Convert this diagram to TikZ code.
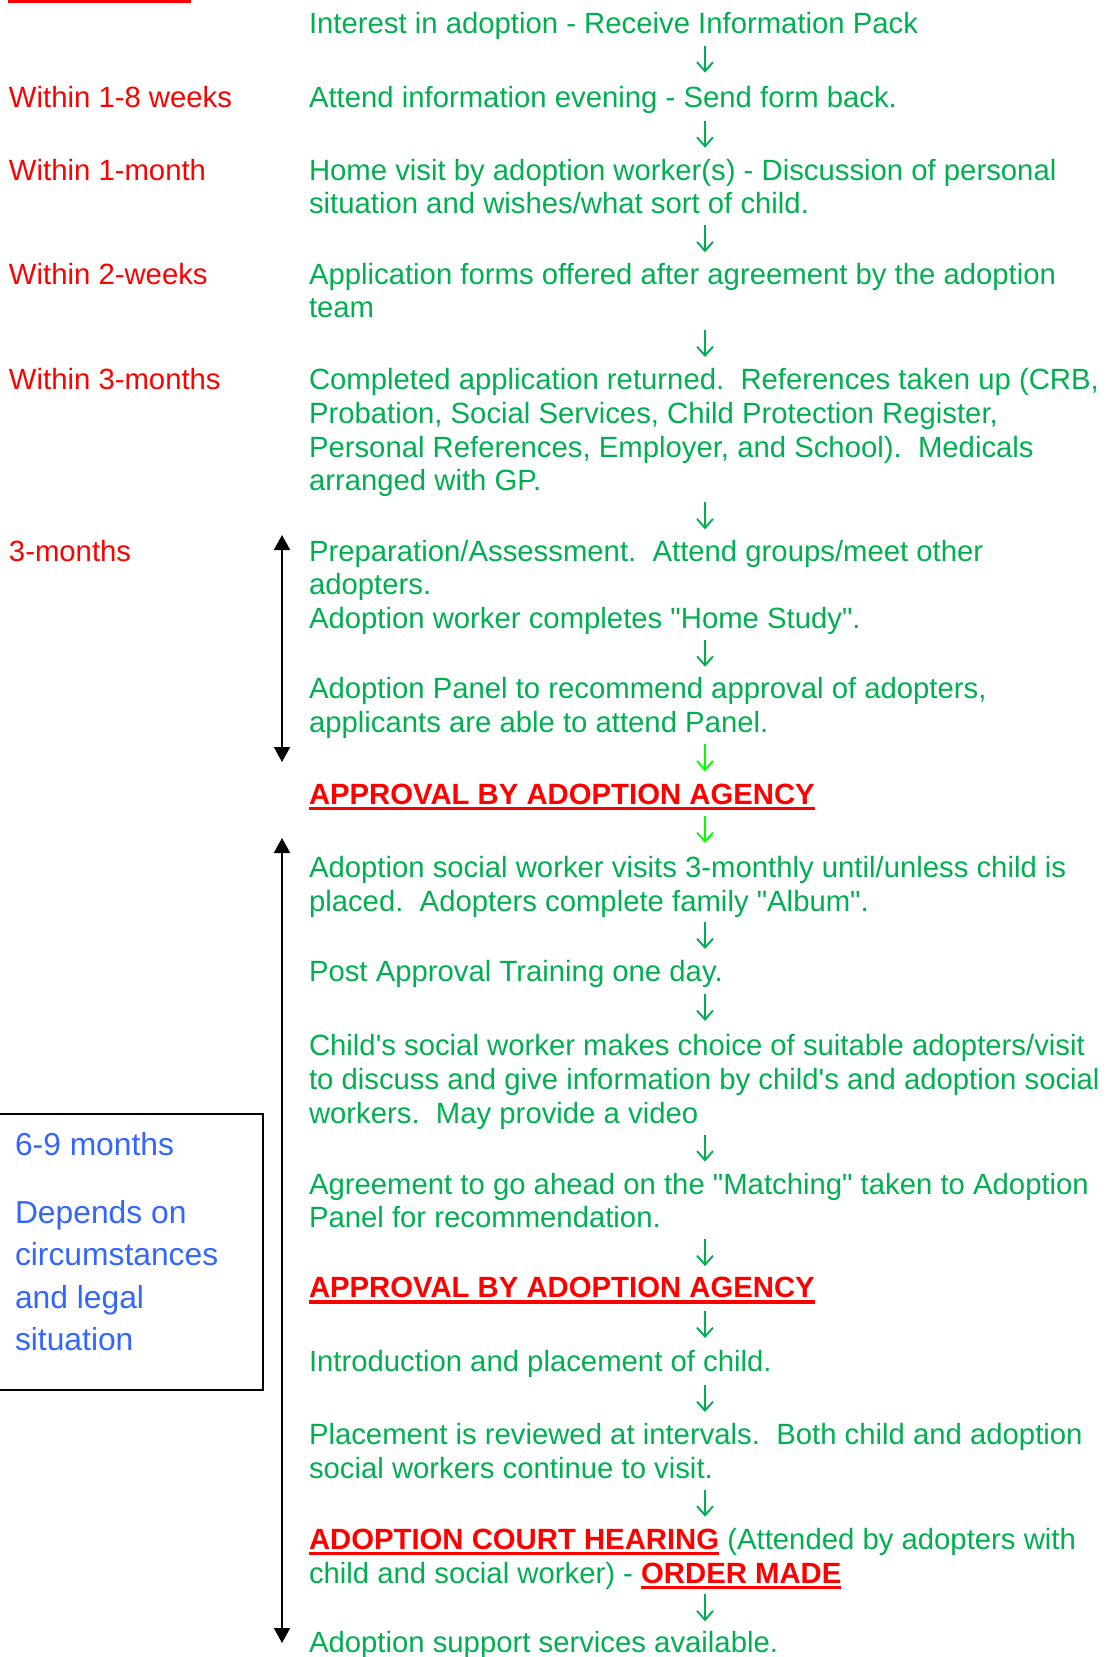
\documentclass[tikz,border=0pt]{standalone}
\usepackage{fontspec}
\setmainfont{Liberation Sans}[Ligatures=TeXOff]
\usetikzlibrary{arrows.meta}
\definecolor{tgreen}{HTML}{00B050}
\definecolor{bgreen}{HTML}{00FF00}
\definecolor{tred}{HTML}{FF0000}
\definecolor{tblue}{HTML}{3366FF}
\newcommand\gfont{\fontsize{14.65pt}{16.9pt}\selectfont\frenchspacing}
\newcommand\bfontx{\fontsize{15.9pt}{21pt}\selectfont}
\begin{document}
\begin{tikzpicture}[x=0.5pt,y=-0.5pt,
  every node/.style={inner sep=0pt, outer sep=0pt, anchor=base west},
  gline/.style={text=tgreen, font=\gfont},
  rlabel/.style={text=tred, font=\gfont},
  rhead/.style={text=tred, font=\gfont\bfseries},
  bline/.style={text=tblue, font=\bfontx},
  flow/.style={draw=tgreen, line width=0.95pt, -{Straight Barb[length=4.5pt,width=8pt]}},
  flowb/.style={flow, draw=bgreen},
  span/.style={draw=black, line width=1pt, {Triangle[width=8pt,length=7.5pt]}-{Triangle[width=8pt,length=7.5pt]}},
  uline/.style={draw=tred, line width=1.6pt},
  timebox/.style={draw=black, line width=1pt, minimum width=141.5pt, minimum height=138pt, anchor=north east},
]
\useasboundingbox (0,0) rectangle (1111,1657);

% top red bar
\fill[tred] (8,0) rectangle (191,3);

% left red time labels
\node[rlabel] (t2) at (9,107.3) {Within 1-8 weeks};
\node[rlabel] (t3) at (9,180.2) {Within 1-month};
\node[rlabel] (t4) at (9,284.8) {Within 2-weeks};
\node[rlabel] (t5) at (9,389.5) {Within 3-months};
\node[rlabel] (t6) at (9,561.3) {3-months};

% steps
\node[gline] (s1) at (309,33.3) {Interest in adoption - Receive Information Pack};
\node[gline] (s2) at (309,107.3) {Attend information evening - Send form back.};
\node[gline] (s3a) at (309,180.2) {Home visit by adoption worker(s) - Discussion of personal};
\node[gline] (s3b) at (309,214) {situation and wishes/what sort of child.};
\node[gline] (s4a) at (309,284.8) {Application forms offered after agreement by the adoption};
\node[gline] (s4b) at (309,317.6) {team};
\node[gline] (s5a) at (309,389.5) {Completed application returned.\ \ References taken up (CRB,};
\node[gline] (s5b) at (309,423.3) {Probation, Social Services, Child Protection Register,};
\node[gline] (s5c) at (309,457.2) {Personal References, Employer, and School).\ \ Medicals};
\node[gline] (s5d) at (309,491) {arranged with GP.};
\node[gline] (s6a) at (309,561.3) {Preparation/Assessment.\ \ Attend groups/meet other};
\node[gline] (s6b) at (309,594.4) {adopters.};
\node[gline] (s6c) at (309,628.4) {Adoption worker completes "Home Study".};
\node[gline] (s7a) at (309,698.8) {Adoption Panel to recommend approval of adopters,};
\node[gline] (s7b) at (309,732.6) {applicants are able to attend Panel.};
\node[rhead] (ap1) at (309,804) {APPROVAL BY ADOPTION AGENCY};
\node[gline] (s9a) at (309,877.9) {Adoption social worker visits 3-monthly until/unless child is};
\node[gline] (s9b) at (309,911.7) {placed.\ \ Adopters complete family "Album".};
\node[gline] (s10) at (309,981.5) {Post Approval Training one day.};
\node[gline] (s11a) at (309,1055.5) {Child's social worker makes choice of suitable adopters/visit};
\node[gline] (s11b) at (309,1089.3) {to discuss and give information by child's and adoption social};
\node[gline] (s11c) at (309,1123.1) {workers.\ \ May provide a video};
\node[gline] (s12a) at (309,1194) {Agreement to go ahead on the "Matching" taken to Adoption};
\node[gline] (s12b) at (309,1227.8) {Panel for recommendation.};
\node[rhead] (ap2) at (309,1297.5) {APPROVAL BY ADOPTION AGENCY};
\node[gline] (s14) at (309,1371.5) {Introduction and placement of child.};
\node[gline] (s15a) at (309,1444.5) {Placement is reviewed at intervals.\ \ Both child and adoption};
\node[gline] (s15b) at (309,1478.3) {social workers continue to visit.};
\node[rhead] (c1) at (309,1549) {ADOPTION COURT HEARING};
\node[gline] (c2) at (c1.base east) {\ (Attended by adopters with};
\node[gline] (c3) at (309,1583) {child and social worker) -\ \null};
\node[rhead] (c4) at (c3.base east) {ORDER MADE};
\node[gline] (s17) at (309,1652.5) {Adoption support services available.};

% underlines
\foreach \n in {ap1,ap2,c1,c4}
  \draw[uline] ([yshift=-2.2pt]\n.base west) -- ([yshift=-2.2pt]\n.base east);

% flow arrows
\foreach \i/\c/\s in {1/59.1/flow, 2/134.2/flow, 3/238.8/flow, 4/343.5/flow,
    5/515.8/flow, 6/653.2/flow, 7/757.9/flowb, 8/829.5/flowb, 9/935.5/flow,
    10/1007.4/flow, 11/1148/flow, 12/1252.6/flow, 13/1324.5/flow,
    14/1398.5/flow, 15/1503.1/flow, 16/1607.8/flow} {
  \coordinate (at\i) at (705,{\c-13.5});
  \coordinate (ab\i) at (705,{\c+13.5});
  \draw[\s] (at\i) -- (ab\i);
}

% black span arrows
\coordinate (v1t) at (282,535);
\coordinate (v1b) at (282,762);
\draw[span] (v1t) -- (v1b);
\coordinate (v2t) at (282,838);
\coordinate (v2b) at (282,1643);
\draw[span] (v2t) -- (v2b);

% time box
\node[timebox] (tbox) at (263,1114) {};
\node[bline] (b1) at (15,1155) {6-9 months};
\node[bline] (b2) at (15,1223.5) {Depends on};
\node[bline] (b3) at (15,1265.8) {circumstances};
\node[bline] (b4) at (15,1308) {and legal};
\node[bline] (b5) at (15,1350.4) {situation};
\end{tikzpicture}
\end{document}
